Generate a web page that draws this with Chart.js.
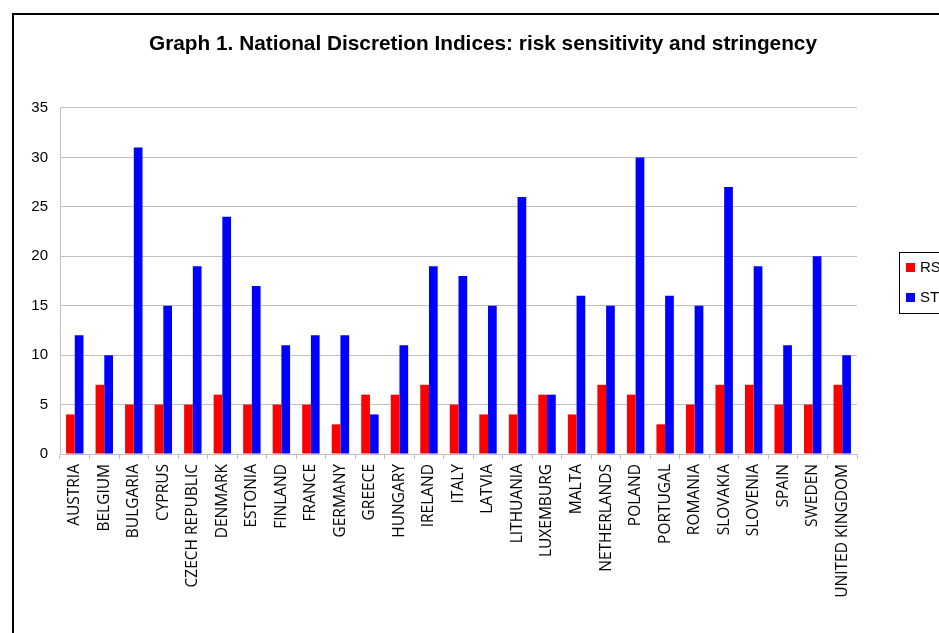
<!DOCTYPE html>
<html>
<head>
<meta charset="utf-8">
<script src="https://cdn.jsdelivr.net/npm/chart.js@4"></script>
<style>
    html, body { margin: 0; padding: 0; background: #fff; overflow: hidden; }
    #wrap { position: absolute; left: 0; top: 0; width: 966px; height: 633px; }
</style>
</head>
<body>
<div id="wrap"><canvas id="chart"></canvas></div>
<script>
const countries = ['AUSTRIA', 'BELGIUM', 'BULGARIA', 'CYPRUS', 'CZECH REPUBLIC', 'DENMARK', 'ESTONIA',
    'FINLAND', 'FRANCE', 'GERMANY', 'GREECE', 'HUNGARY', 'IRELAND', 'ITALY', 'LATVIA', 'LITHUANIA',
    'LUXEMBURG', 'MALTA', 'NETHERLANDS', 'POLAND', 'PORTUGAL', 'ROMANIA', 'SLOVAKIA', 'SLOVENIA',
    'SPAIN', 'SWEDEN', 'UNITED KINGDOM'];
const rsValues = [4, 7, 5, 5, 5, 6, 5, 5, 5, 3, 6, 6, 7, 5, 4, 4, 6, 4, 7, 6, 3, 5, 7, 7, 5, 5, 7];
const stValues = [12, 10, 31, 15, 19, 24, 17, 11, 12, 12, 4, 11, 19, 18, 15, 26, 6, 16, 15, 30, 16, 15, 27, 19, 11, 20, 10];
const seriesNames = ['RSI', 'STI'];
const yMax = 35;
const yStep = 5;

// outer frame, the right and bottom sides run off the page
const framePlugin = {
    id: 'frame',
    beforeDraw(chart) {
        const ctx = chart.ctx;
        ctx.save();
        ctx.fillStyle = '#fff';
        ctx.fillRect(0, 0, chart.width, chart.height);
        ctx.strokeStyle = '#000';
        ctx.lineWidth = 2;
        ctx.strokeRect(13, 14, 1000, 700);
        ctx.restore();
    }
};

// legend as a layout box on the right (so the title still centres on the full width)
const boxLegend = {
    id: 'boxLegend',
    beforeInit(chart) {
        Chart.layouts.addBox(chart, {
            position: 'right',
            weight: 0,
            fullSize: false,
            options: {},
            isHorizontal() { return false; },
            update(maxWidth, maxHeight) {
                this.width = 109;
                this.height = maxHeight;
            },
            draw() {
                const ctx = chart.ctx;
                const x0 = this.left + 42;
                ctx.save();
                ctx.strokeStyle = '#000';
                ctx.lineWidth = 1;
                ctx.strokeRect(x0 + 0.5, 252.5, 80, 61);
                ctx.font = '15px "Liberation Sans", Arial, sans-serif';
                ctx.textBaseline = 'middle';
                chart.data.datasets.forEach((ds, i) => {
                    const y = 268 + i * 30;
                    ctx.fillStyle = ds.backgroundColor;
                    ctx.fillRect(x0 + 7, y - 5, 9, 9);
                    ctx.fillStyle = '#000';
                    ctx.fillText(ds.label, x0 + 21, y);
                });
                ctx.restore();
            }
        });
    }
};

new Chart(document.getElementById('chart'), {
    type: 'bar',
    data: {
        labels: countries,
        datasets: [
            { label: seriesNames[0], data: rsValues, backgroundColor: '#ff0000' },
            { label: seriesNames[1], data: stValues, backgroundColor: '#0000ff' }
        ]
    },
    options: {
        responsive: true,
        maintainAspectRatio: false,
        animation: false,
        datasets: { bar: { categoryPercentage: 0.59, barPercentage: 1.0 } },
        layout: { padding: 0 },
        plugins: {
            legend: { display: false },
            tooltip: { enabled: false },
            title: {
                display: true,
                text: 'Graph 1. National Discretion Indices: risk sensitivity and stringency',
                color: '#000',
                font: { family: '"Liberation Sans", Arial, sans-serif', size: 20.8, weight: 'bold' },
                padding: { top: 32, bottom: 51 }
            }
        },
        scales: {
            x: {
                afterFit(scale) { scale.height = 179; },
                grid: { offset: true, drawOnChartArea: false, drawTicks: true, tickLength: 5, color: '#c0c0c0' },
                border: { color: '#c0c0c0' },
                ticks: {
                    autoSkip: false,
                    maxRotation: 90,
                    minRotation: 90,
                    padding: 5,
                    color: '#000',
                    font: { family: '"Open Sans", sans-serif', size: 15.5 }
                }
            },
            y: {
                min: 0,
                max: yMax,
                afterFit(scale) { scale.width = 60; },
                grid: { color: '#c0c0c0', drawTicks: false },
                border: { color: '#c0c0c0' },
                ticks: {
                    stepSize: yStep,
                    padding: 12,
                    color: '#000',
                    font: { family: '"Liberation Sans", Arial, sans-serif', size: 15 }
                }
            }
        }
    },
    plugins: [framePlugin, boxLegend]
});
</script>
</body>
</html>
